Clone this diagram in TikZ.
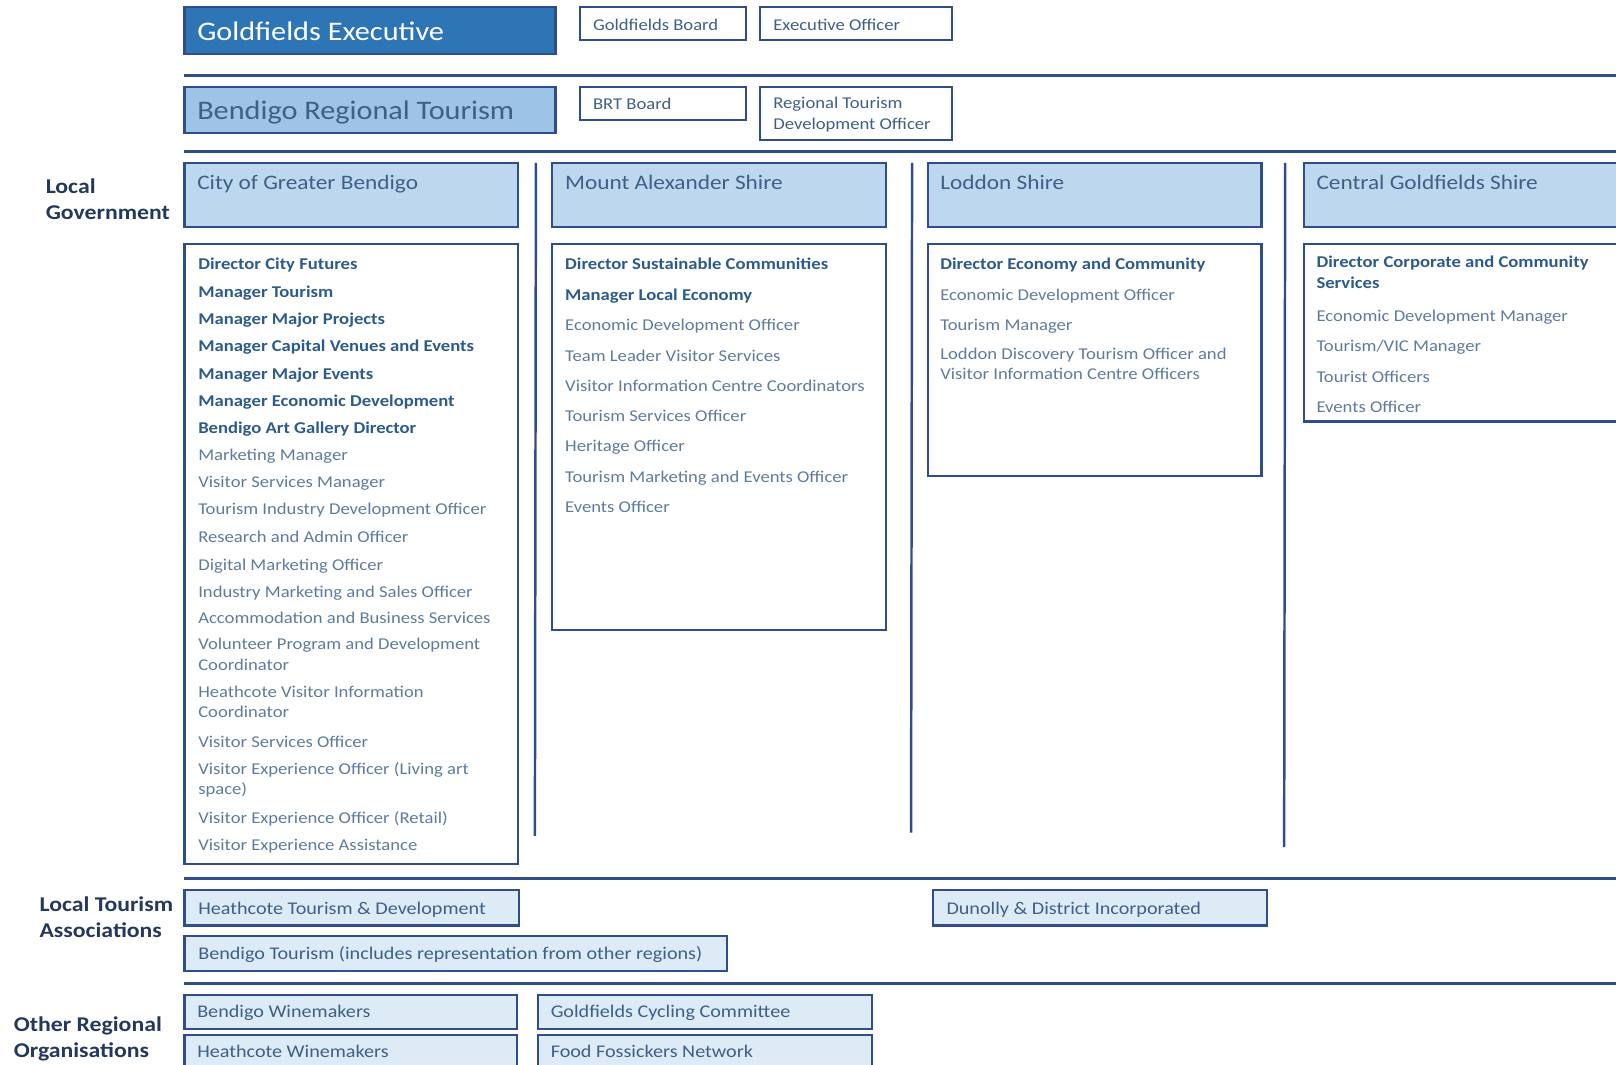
\documentclass[tikz,border=0pt]{standalone}
\usepackage{fontspec}
\setmainfont{Carlito}[FakeStretch=1.13]
\usepackage{tikz}

\definecolor{navy}{HTML}{2F4D8A}
\definecolor{execblue}{HTML}{2E75B6}
\definecolor{brtblue}{HTML}{9DC3E6}
\definecolor{headblue}{HTML}{BDD7EE}
\definecolor{paleblue}{HTML}{DDEBF7}
\definecolor{headtxt}{HTML}{3E5F86}
\definecolor{boldtxt}{HTML}{2C5A8A}
\definecolor{regtxt}{HTML}{5E7B9B}
\definecolor{labeltxt}{HTML}{23385A}

\begin{document}
\begin{tikzpicture}[x=0.5pt,y=-0.5pt,
	box/.style={draw=navy, line width=1pt},
	rule/.style={draw=navy, line width=1.5pt},
	divider/.style={draw=navy, line width=1.2pt},
	bigtext/.style={anchor=base west, inner sep=0, font=\fontsize{13}{16}\selectfont},
	headtext/.style={anchor=base west, inner sep=0, text=headtxt, font=\fontsize{10}{12}\selectfont},
	smalltext/.style={anchor=north west, inner sep=0, align=left, text=headtxt, font=\fontsize{8}{10}\selectfont, execute at begin node=\strut},
	lowtext/.style={anchor=base west, inner sep=0, text=headtxt, font=\fontsize{8.65}{11}\selectfont},
	grouplabel/.style={anchor=north west, inner sep=0, align=left, text=labeltxt, font=\fontsize{10.2}{12.5}\selectfont\bfseries, execute at begin node=\strut},
	role/.style={anchor=north west, inner sep=0, align=left, text=regtxt, font=\fontsize{8}{10}\selectfont, execute at begin node=\strut},
	leadrole/.style={role, text=boldtxt, font=\fontsize{8}{10}\selectfont\bfseries}]
	\clip (0,0) rectangle (1568,1033);

	% Top rows
	\draw[box, fill=execblue] (179,7) rectangle (539,52);
	\node[bigtext, text=white] (exec) at (191,39) {Goldfields Executive};
	\draw[box] (563,7) rectangle (724,39);
	\node[smalltext] (gboard) at (575,15) {Goldfields Board};
	\draw[box] (737,7) rectangle (924,39);
	\node[smalltext] (eoff) at (750,15) {Executive Officer};
	\draw[rule] (179,73) -- (1570,73);

	\draw[box, fill=brtblue] (179,84) rectangle (539,129);
	\node[bigtext, text=headtxt] (brt) at (191,116) {Bendigo Regional Tourism};
	\draw[box] (563,84) rectangle (724,116);
	\node[smalltext] (brtboard) at (575,92) {BRT Board};
	\draw[box] (737,84) rectangle (924,136);
	\node[smalltext] (rtdo) at (750,94) {Regional Tourism\\Development Officer};
	\draw[rule] (179,147) -- (1570,147);

	% Local Government
	\node[grouplabel] (localgov) at (44,173) {Local\\Government};
	\draw[box, fill=headblue] (179,158) rectangle (503,220);
	\node[headtext] (cgb) at (191,184) {City of Greater Bendigo};
	\draw[box, fill=headblue] (536,158) rectangle (860,220);
	\node[headtext] (mas) at (548,184) {Mount Alexander Shire};
	\draw[box, fill=headblue] (900,158) rectangle (1224,220);
	\node[headtext] (lod) at (912,184) {Loddon Shire};
	\draw[box, fill=headblue] (1265,158) rectangle (1580,220);
	\node[headtext] (cgs) at (1277,184) {Central Goldfields Shire};

	\draw[divider] (520,158) -- (519,811);
	\draw[divider] (885,158) -- (884,808);
	\draw[divider] (1247,158) -- (1246,822);

	% City of Greater Bendigo
	\draw[box] (179,237) rectangle (503,838);
	\node[leadrole] (cgb1) at (192,247) {Director City Futures};
	\node[leadrole] (cgb2) at (192,274) {Manager Tourism};
	\node[leadrole] (cgb3) at (192,300) {Manager Major Projects};
	\node[leadrole] (cgb4) at (192,327) {Manager Capital Venues and Events};
	\node[leadrole] (cgb5) at (192,354) {Manager Major Events};
	\node[leadrole] (cgb6) at (192,380) {Manager Economic Development};
	\node[leadrole] (cgb7) at (192,406) {Bendigo Art Gallery Director};
	\node[role] (cgb8) at (192,432) {Marketing Manager};
	\node[role] (cgb9) at (192,459) {Visitor Services Manager};
	\node[role] (cgb10) at (192,485) {Tourism Industry Development Officer};
	\node[role] (cgb11) at (192,512) {Research and Admin Officer};
	\node[role] (cgb12) at (192,539) {Digital Marketing Officer};
	\node[role] (cgb13) at (192,565) {Industry Marketing and Sales Officer};
	\node[role] (cgb14) at (192,591) {Accommodation and Business Services};
	\node[role] (cgb15) at (192,619) {Volunteer Program and Development\\Coordinator};
	\node[role] (cgb16) at (192,665) {Heathcote Visitor Information\\Coordinator};
	\node[role] (cgb17) at (192,711) {Visitor Services Officer};
	\node[role] (cgb18) at (192,739) {Visitor Experience Officer (Living art\\space)};
	\node[role] (cgb19) at (192,785) {Visitor Experience Officer (Retail)};
	\node[role] (cgb20) at (192,811) {Visitor Experience Assistance};

	% Mount Alexander Shire
	\draw[box] (536,237) rectangle (860,611);
	\node[leadrole] (mas1) at (548,247) {Director Sustainable Communities};
	\node[leadrole] (mas2) at (548,277) {Manager Local Economy};
	\node[role] (mas3) at (548,306) {Economic Development Officer};
	\node[role] (mas4) at (548,336) {Team Leader Visitor Services};
	\node[role] (mas5) at (548,365) {Visitor Information Centre Coordinators};
	\node[role] (mas6) at (548,395) {Tourism Services Officer};
	\node[role] (mas7) at (548,424) {Heritage Officer};
	\node[role] (mas8) at (548,454) {Tourism Marketing and Events Officer};
	\node[role] (mas9) at (548,483) {Events Officer};

	% Loddon Shire
	\draw[box] (900,237) rectangle (1224,462);
	\node[leadrole] (lod1) at (912,247) {Director Economy and Community};
	\node[role] (lod2) at (912,277) {Economic Development Officer};
	\node[role] (lod3) at (912,306) {Tourism Manager};
	\node[role] (lod4) at (912,337) {Loddon Discovery Tourism Officer and\\Visitor Information Centre Officers};

	% Central Goldfields Shire
	\draw[box] (1265,237) rectangle (1580,409);
	\node[leadrole] (cgs1) at (1277,248) {Director Corporate and Community\\Services};
	\node[role] (cgs2) at (1277,298) {Economic Development Manager};
	\node[role] (cgs3) at (1277,327) {Tourism/VIC Manager};
	\node[role] (cgs4) at (1277,357) {Tourist Officers};
	\node[role] (cgs5) at (1277,386) {Events Officer};

	% Local Tourism Associations
	\draw[rule] (179,852) -- (1570,852);
	\node[grouplabel] (lta) at (38,870) {Local Tourism\\Associations};
	\draw[box, fill=paleblue] (179,864) rectangle (504,898);
	\node[lowtext] (htd) at (192,887) {Heathcote Tourism \& Development};
	\draw[box, fill=paleblue] (905,864) rectangle (1229,898);
	\node[lowtext] (ddi) at (918,887) {Dunolly \& District Incorporated};
	\draw[box, fill=paleblue] (179,908) rectangle (705,942);
	\node[lowtext] (btour) at (192,931) {Bendigo Tourism (includes representation from other regions)};
	\draw[rule] (179,954) -- (1570,954);

	% Other Regional Organisations
	\node[grouplabel] (oro) at (13,986) {Other Regional\\Organisations};
	\draw[box, fill=paleblue] (179,965) rectangle (502,998);
	\node[lowtext] (bwine) at (191,987) {Bendigo Winemakers};
	\draw[box, fill=paleblue] (522,965) rectangle (846,998);
	\node[lowtext] (gcc) at (534,987) {Goldfields Cycling Committee};
	\draw[box, fill=paleblue] (179,1004) rectangle (502,1045);
	\node[lowtext] (hwine) at (191,1026) {Heathcote Winemakers};
	\draw[box, fill=paleblue] (522,1004) rectangle (846,1045);
	\node[lowtext] (ffn) at (534,1026) {Food Fossickers Network};
\end{tikzpicture}
\end{document}
